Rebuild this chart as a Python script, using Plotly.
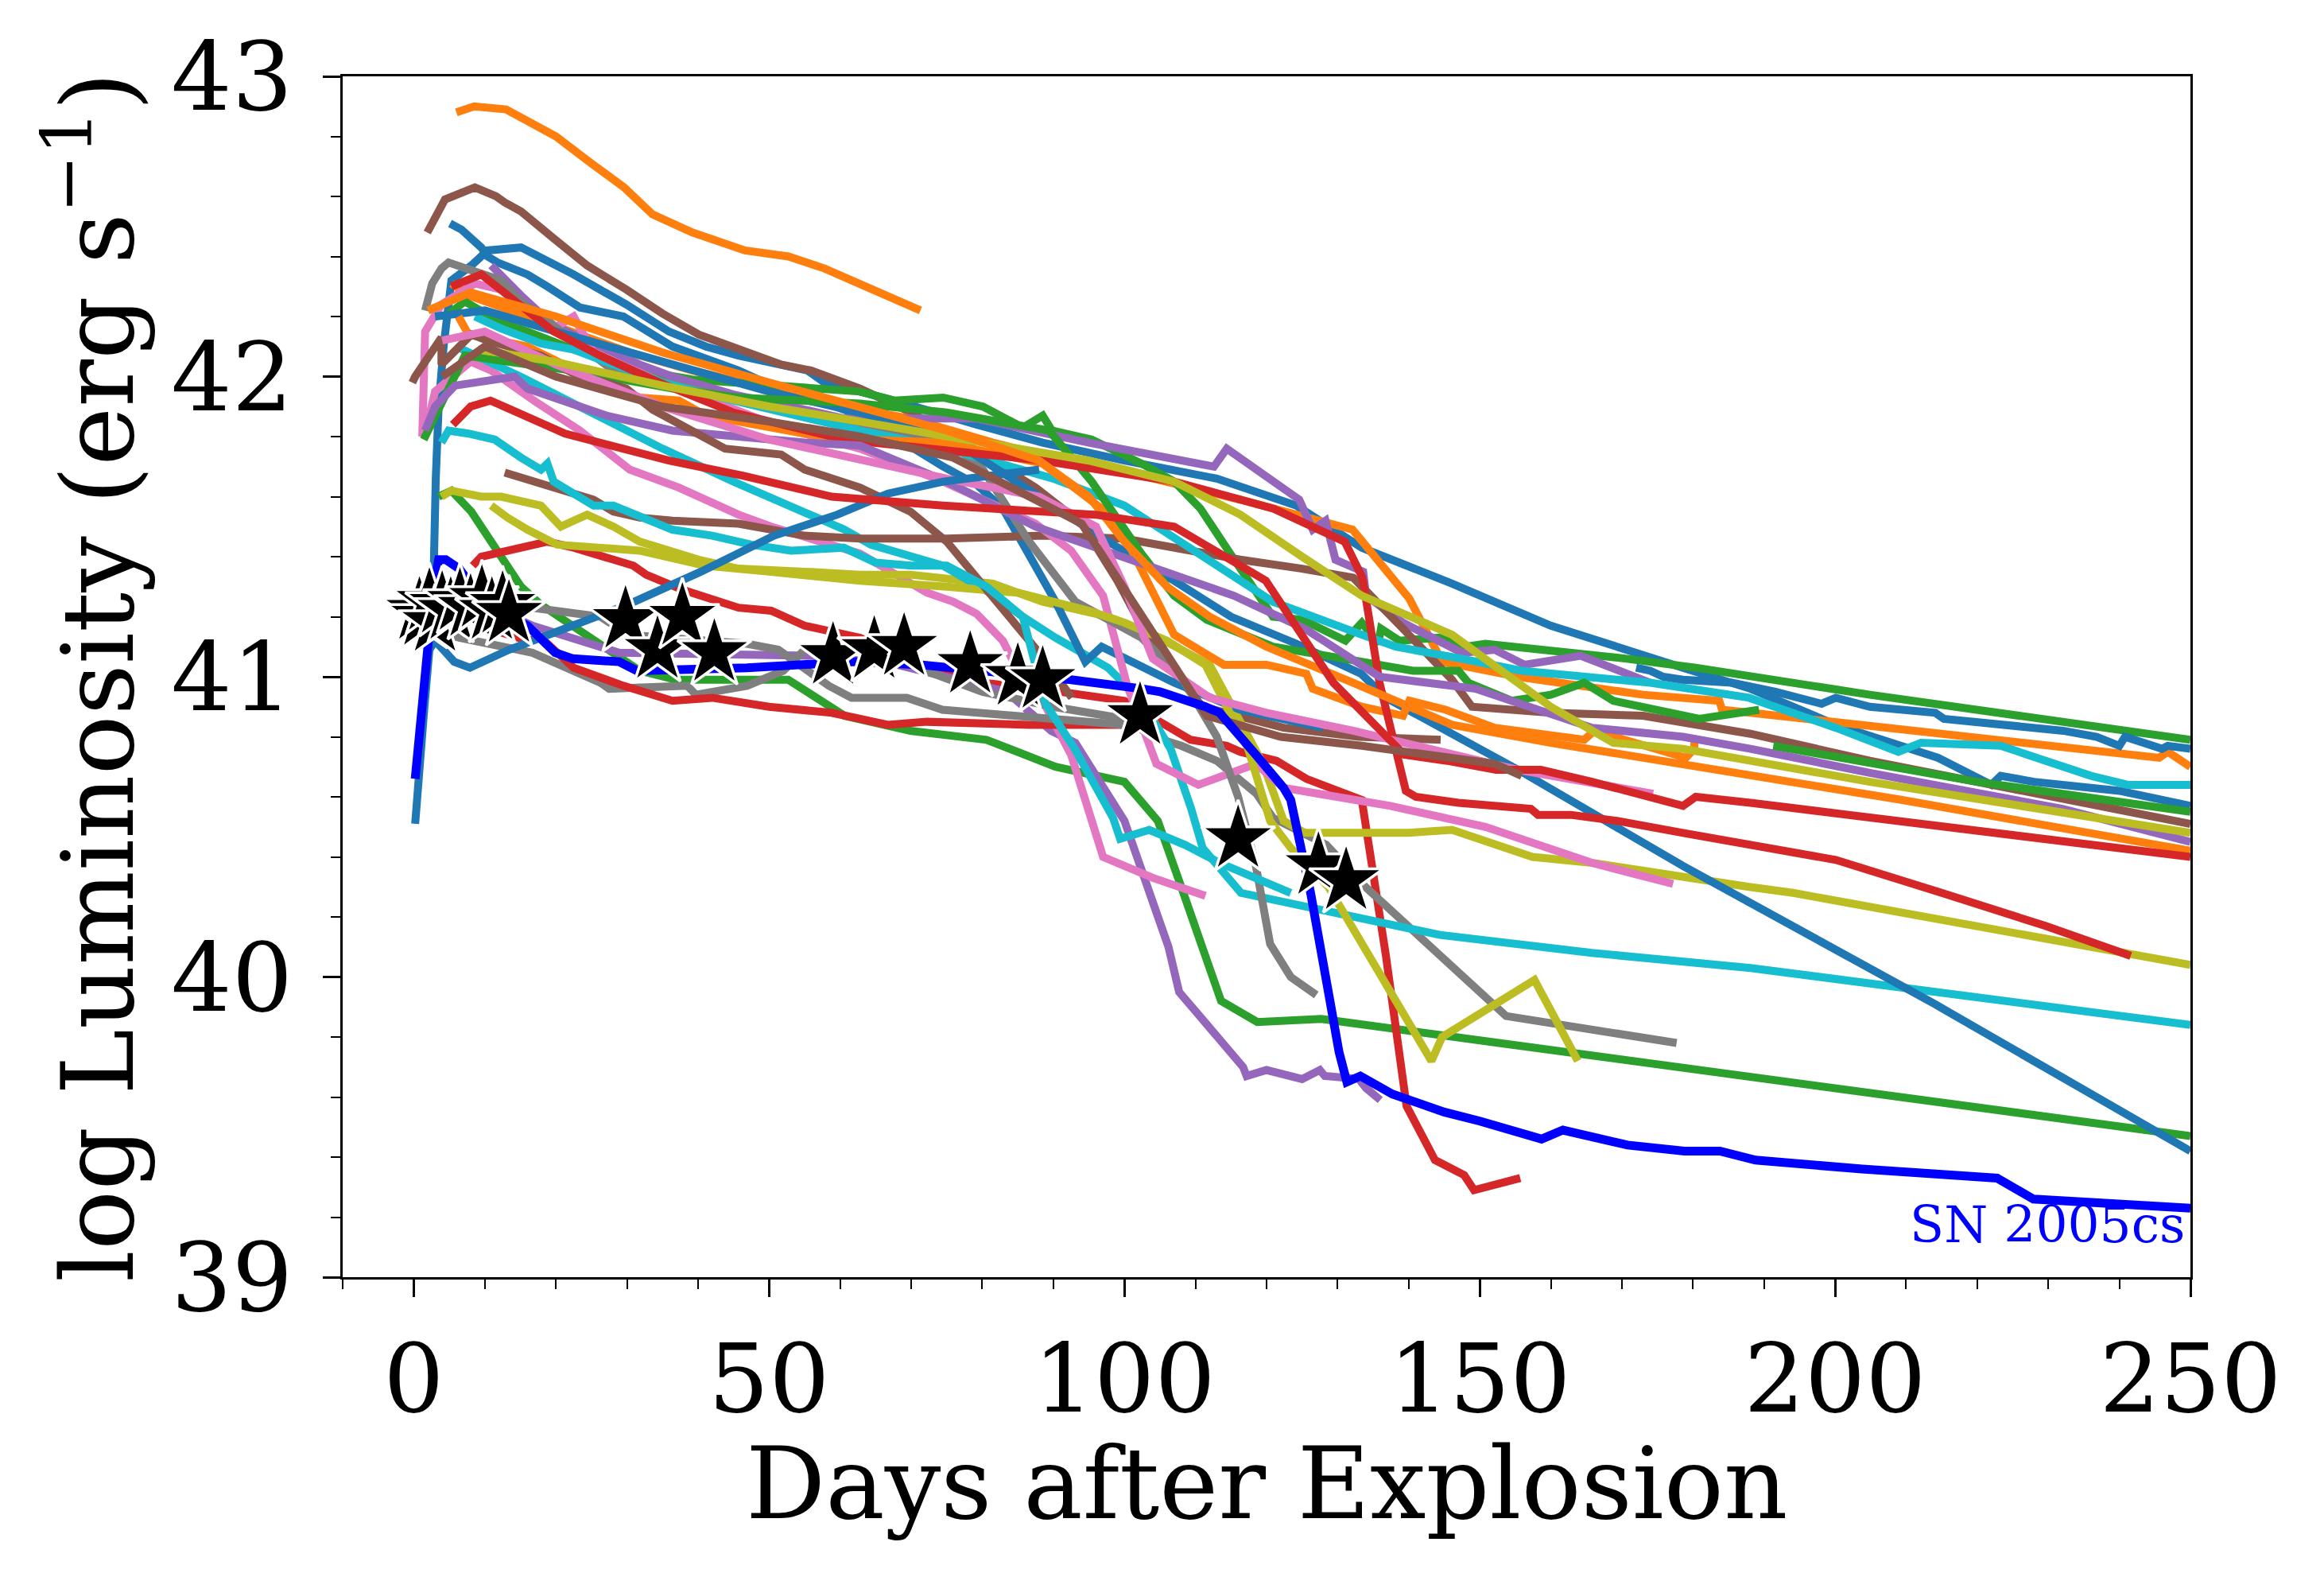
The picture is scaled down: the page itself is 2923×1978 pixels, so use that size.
import plotly.graph_objects as go

# ---------------- data (days after explosion, log L) ----------------
ORANGE_TOP_T = [6, 8.5, 13, 20, 25, 29.6, 33.6, 39.2, 46.6, 52.7, 57.8, 62.8, 67, 71.3]
ORANGE_TOP_L = [42.88, 42.9, 42.89, 42.8, 42.71, 42.63, 42.54, 42.48, 42.42, 42.40, 42.36, 42.31, 42.27, 42.22]

BROWN_TOP_T = [1.9, 4.4, 8.6, 11.6, 12.8, 15.1, 19.7, 24.4, 29.9, 35, 40.1, 43.8, 47.5, 51.7, 55.9, 62.8, 70, 78, 87.5, 94, 99, 104, 111, 122.4, 133, 144.5]
BROWN_TOP_L = [42.48, 42.59, 42.63, 42.60, 42.58, 42.55, 42.46, 42.37, 42.29, 42.21, 42.14, 42.11, 42.08, 42.04, 42.02, 41.96, 41.88, 41.77, 41.63, 41.51, 41.32, 41.1, 40.9, 40.83, 40.80, 40.79]

BLUE_B1_T = [5.1, 6.7, 9.5, 10.4, 11.8, 16, 18.8, 23.4, 29.5, 36.4, 45.7, 48.5, 55.9, 62.8, 74.5, 79.2, 82.9, 86.6, 90.3, 94.5, 96.8, 107, 116.3, 127.9]
BLUE_B1_L = [42.51, 42.49, 42.43, 42.40, 42.38, 42.34, 42.30, 42.23, 42.20, 42.10, 42.02, 41.99, 41.93, 41.87, 41.70, 41.64, 41.56, 41.41, 41.25, 41.05, 41.10, 40.98, 40.89, 40.83]

BLUE_B2_T = [0.2, 0.6, 1.5, 2.2, 2.8, 3.1, 3.5, 4.2, 5.3, 8.1, 10.4, 15.1, 22.5, 29.9, 35.9, 41.1, 45.7, 55.4, 57.8, 62.8, 67.6, 79.2, 88.5, 100, 113, 124.2, 133.4, 146.1, 160, 178.6, 188.1, 200.1, 214.5, 222, 223.3, 228, 240, 250]
BLUE_B2_L = [40.51, 40.65, 40.9, 41.09, 41.34, 41.66, 41.9, 42.1, 42.32, 42.37, 42.42, 42.43, 42.34, 42.24, 42.15, 42.10, 42.07, 42.02, 41.98, 41.95, 41.92, 41.84, 41.78, 41.72, 41.66, 41.57, 41.43, 41.31, 41.17, 41.03, 40.96, 40.84, 40.73, 40.64, 40.67, 40.65, 40.62, 40.57]

BLUE_RISE_T = [2.2, 3, 5.7, 7.9, 13.4, 21.1, 30.1, 40.4, 50.7, 59.6, 66.7, 74.5, 83.8, 88]
BLUE_RISE_L = [41.09, 41.12, 41.05, 41.03, 41.09, 41.16, 41.24, 41.35, 41.47, 41.54, 41.61, 41.65, 41.68, 41.69]

BLUE_STEEP_T = [3, 10, 20, 35, 50, 62.8, 75, 88, 97.7, 107, 115, 124.2, 133.3, 136.8, 155.4, 178.6, 201.8, 214, 250]
BLUE_STEEP_L = [42.2, 42.22, 42.15, 42.05, 41.95, 41.88, 41.8, 41.6, 41.45, 41.32, 41.2, 41.11, 41.01, 40.93, 40.69, 40.37, 40.07, 39.91, 39.42]

BLUE_JIT_T = [172, 174, 175.8, 178.6, 185.5, 191.6, 198.1, 200.1, 204.9, 214.1, 215.3, 224.1, 232.1, 236.8, 240, 240.8, 246, 246.8, 250]
BLUE_JIT_L = [41.03, 41.02, 41.0, 40.99, 40.98, 40.95, 40.91, 40.93, 40.90, 40.88, 40.86, 40.84, 40.82, 40.80, 40.77, 40.80, 40.76, 40.77, 40.76]

GREEN_TOP_T = [4.4, 7.2, 12.3, 16, 22.5, 31.8, 39.2, 51.3, 62.8, 67.6, 74.5, 80.1, 85.7, 88.5, 89.8, 95.4, 102.4, 107, 110.7, 114.9, 120.9, 125.1, 129.7, 131.1, 133, 133.4, 135.7, 136.1, 138.7, 144.3, 148, 150.8, 170.7, 180.4, 204.9, 250]
GREEN_TOP_L = [42.20, 42.25, 42.18, 42.15, 42.09, 42.02, 41.99, 41.97, 41.95, 41.92, 41.93, 41.90, 41.83, 41.87, 41.82, 41.79, 41.71, 41.65, 41.56, 41.41, 41.2, 41.19, 41.14, 41.12, 41.17, 41.18, 41.11, 41.16, 41.12, 41.13, 41.10, 41.11, 41.06, 41.03, 40.94, 40.79]

GREEN_3_T = [1.4, 7.2, 16, 22.5, 36.4, 45.7, 62.8, 75, 89.4, 95.4, 102.4, 107, 111.6, 120.9, 133.4, 136.4, 140.6, 147, 148.4, 154.5, 160, 164.7, 168.8, 180.9, 189.3]
GREEN_3_L = [41.79, 42.07, 42.04, 42.02, 41.96, 41.93, 41.91, 41.88, 41.82, 41.65, 41.41, 41.27, 41.19, 41.10, 41.05, 41.04, 41.02, 41.02, 40.98, 40.92, 40.94, 40.98, 40.92, 40.86, 40.89]

GREEN_2_T = [191.3, 204.9, 220, 250]
GREEN_2_L = [40.77, 40.71, 40.65, 40.55]

GREEN_DROP_T = [3.5, 5.3, 8.1, 15.1, 17.9, 31.8, 36.9, 52.7, 60.6, 69.9, 80.6, 90.3, 100, 104.7, 108, 113.6, 118.7, 127.7, 152.7, 198.8, 250]
GREEN_DROP_L = [41.6, 41.62, 41.55, 41.30, 41.24, 41.02, 40.99, 40.99, 40.87, 40.82, 40.79, 40.70, 40.65, 40.52, 40.3, 39.92, 39.85, 39.86, 39.78, 39.63, 39.47]

GRAY_A_T = [1.6, 2.6, 3.9, 4.9, 12.3, 15.1, 22.5, 28.1, 31.8, 45.7, 60.6, 69.9, 75.5, 80.1, 86.6, 93.1, 102.4, 108, 113, 116, 118.5, 120.5, 123.4, 127]
GRAY_A_L = [42.22, 42.31, 42.36, 42.38, 42.32, 42.25, 42.12, 42.02, 42.0, 41.92, 41.84, 41.80, 41.78, 41.69, 41.45, 41.25, 41.13, 41.0, 40.8, 40.6, 40.37, 40.11, 40.0, 39.94]

GRAY_B_T = [2, 6.4, 16.7, 26.3, 27.5, 38.5, 39.7, 46.9, 52, 55, 60, 66, 72, 80, 90, 100, 104, 108, 113, 118.6, 120.9, 128.4, 133.9, 153.7, 177.7]
GRAY_B_L = [41.16, 41.13, 41.08, 40.98, 40.96, 40.97, 40.94, 40.97, 41.02, 41.09, 41.1, 41.08, 41.02, 40.95, 40.9, 40.86, 40.8, 40.77, 40.72, 40.61, 40.53, 40.44, 40.30, 39.87, 39.78]

GRAY_C_T = [3, 8, 16.7, 26.3, 30.1, 46.9, 51.3, 58.4, 61.6, 69.4, 74.4, 89.7, 100, 104]
GRAY_C_L = [41.25, 41.24, 41.23, 41.2, 41.14, 41.11, 41.09, 40.97, 40.93, 40.93, 40.89, 40.86, 40.84, 40.82]

RED_MID_T = [8.3, 9.5, 18.8, 22.5, 30.9, 32.7, 37.8, 45.7, 50.3, 55, 62.8, 71.8, 80, 88, 100, 105.2, 107, 109.3, 114.4, 116.3, 121.4, 125.6, 133.4, 136.8, 139.7, 143.7, 147.8, 149.2, 155.7]
RED_MID_L = [41.37, 41.40, 41.45, 41.43, 41.37, 41.34, 41.29, 41.23, 41.22, 41.17, 41.13, 41.03, 40.98, 40.96, 40.92, 40.85, 40.82, 40.79, 40.77, 40.75, 40.72, 40.66, 40.59, 40.07, 39.57, 39.39, 39.34, 39.29, 39.33]

RED_LOW_T = [12, 16, 17.9, 22.5, 29.5, 36.4, 42, 50, 58.8, 66.7, 72.2, 86.6, 97.7, 103]
RED_LOW_L = [41.15, 41.12, 41.13, 41.03, 40.97, 40.92, 40.93, 40.9, 40.88, 40.84, 40.85, 40.84, 40.84, 40.84]

RED_STEEP_T = [5.3, 9.5, 19.7, 26.2, 34.6, 45, 60.6, 88.5, 107, 121, 131, 133.5, 135.9, 137.8, 139.6, 141, 147, 157.2, 158.2, 162.8, 169.3, 178.6, 188.1, 200.1, 215, 229.6, 241.6]
RED_STEEP_L = [42.30, 42.34, 42.15, 42.07, 41.98, 41.88, 41.79, 41.72, 41.65, 41.56, 41.45, 41.33, 40.98, 40.78, 40.62, 40.6, 40.58, 40.56, 40.54, 40.54, 40.52, 40.48, 40.44, 40.39, 40.28, 40.17, 40.07]

RED_TAIL_T = [5.5, 8, 10.8, 21.3, 35.9, 46.3, 58.8, 74.5, 88.5, 95.9, 107, 119.9, 129.4, 139.4, 145.4, 152.3, 158.6, 165.8, 178.6, 180.4, 188.1, 204.9, 250]
RED_TAIL_L = [41.84, 41.9, 41.92, 41.81, 41.72, 41.67, 41.6, 41.57, 41.55, 41.54, 41.5, 41.32, 40.98, 40.74, 40.72, 40.69, 40.69, 40.65, 40.57, 40.60, 40.58, 40.53, 40.40]

PURPLE_TOP_T = [10.9, 15.1, 19.7, 31.8, 36.4, 45, 55, 60.6, 79.2, 95, 112.6, 114.4, 124.6, 126.5, 128.3, 129.7, 133.6, 134, 139.2, 147.5, 152.1, 156.3, 164.2, 174]
PURPLE_TOP_L = [42.37, 42.27, 42.17, 42.04, 42.0, 41.94, 41.89, 41.86, 41.86, 41.78, 41.70, 41.76, 41.59, 41.49, 41.52, 41.39, 41.35, 41.27, 41.18, 41.08, 41.09, 41.04, 41.07, 40.98]

PURPLE_2_T = [1.6, 3, 5.8, 14.2, 16, 22.5, 27.1, 36.4, 45.7, 55, 62.8, 75, 87.5, 105, 115.4, 125.4, 135.9, 149.4, 165.8, 178.6, 188.1, 204.9, 232, 250]
PURPLE_2_L = [41.82, 41.9, 41.97, 42.0, 41.96, 41.91, 41.87, 41.82, 41.80, 41.78, 41.77, 41.65, 41.50, 41.36, 41.27, 41.16, 41.0, 40.96, 40.83, 40.80, 40.76, 40.68, 40.56, 40.45]

PURPLE_DROP_T = [14, 16.7, 28.9, 46.9, 56.5, 68, 83.4, 89.7, 93.1, 100, 102.7, 106.2, 107.7, 116.7, 117.2, 120, 125, 127.5, 128.2, 133, 134, 136]
PURPLE_DROP_L = [41.2, 41.17, 41.08, 41.07, 41.07, 41.04, 40.95, 40.82, 40.78, 40.52, 40.33, 40.10, 39.95, 39.70, 39.67, 39.69, 39.66, 39.69, 39.67, 39.66, 39.63, 39.59]

PINK_A_T = [1.5, 3, 8, 10.9, 16.9, 23.4, 30.4, 37.3, 45.7, 50.3, 62.8, 72.2, 75.9, 79.2, 82.9, 84.8, 88.5, 92.5, 97, 104, 111.4]
PINK_A_L = [41.8, 41.95, 42.05, 42.02, 41.92, 41.82, 41.69, 41.63, 41.54, 41.5, 41.41, 41.28, 41.25, 41.21, 41.12, 41.03, 40.92, 40.74, 40.4, 40.33, 40.27]

PINK_B_T = [1.2, 1.6, 3.9, 8.6, 12.3, 16, 19.7, 22.5, 25.3, 35, 45.2, 51.7, 62.8, 74.5, 87.5, 92.5, 97, 100.4, 104.5, 110.4, 118.5, 122.4, 127.4, 137.4, 150.8, 165.8, 177.2]
PINK_B_L = [41.80, 42.15, 42.24, 42.31, 42.29, 42.22, 42.16, 42.2, 42.08, 41.98, 41.89, 41.83, 41.76, 41.65, 41.51, 41.42, 41.27, 40.97, 40.71, 40.64, 40.71, 40.63, 40.61, 40.57, 40.5, 40.38, 40.31]

PINK_C_T = [4, 10, 20, 35, 50, 62.8, 75, 88, 96, 100, 104, 112, 120, 132.2, 155.4, 174.4]
PINK_C_L = [42.12, 42.15, 42.04, 41.9, 41.79, 41.72, 41.66, 41.6, 41.5, 41.3, 41.06, 40.93, 40.88, 40.82, 40.69, 40.61]

OLIVE_A_T = [3.9, 5.3, 9.5, 12.3, 17.9, 20.7, 22.5, 24.4, 28.1, 31.8, 40.1, 45.7, 55, 62.8, 69.9, 81.5, 88.5, 97.7, 104, 112, 115.4, 119.5, 122.4, 125.4, 139.9, 146.1, 157.4, 165.8, 187.9, 194.1, 250]
OLIVE_A_L = [41.60, 41.62, 41.60, 41.6, 41.57, 41.50, 41.52, 41.54, 41.5, 41.45, 41.39, 41.36, 41.35, 41.34, 41.34, 41.31, 41.25, 41.2, 41.14, 41.04, 40.89, 40.71, 40.52, 40.48, 40.48, 40.49, 40.40, 40.38, 40.3, 40.28, 40.04]

OLIVE_B_T = [10.9, 13.2, 16, 20.2, 31.8, 41, 50, 62.8, 75, 85, 95, 100, 106, 111.4, 114.4, 117.4, 120.5, 123.4, 128.7, 137.7, 143.2, 144.7, 157.7, 163.8]
OLIVE_B_L = [41.57, 41.53, 41.49, 41.44, 41.42, 41.37, 41.35, 41.32, 41.3, 41.28, 41.22, 41.18, 41.12, 41.04, 40.9, 40.76, 40.52, 40.43, 40.30, 39.94, 39.72, 39.80, 39.99, 39.72]

OLIVE_C_T = [9, 19.7, 35, 50, 62.8, 80, 95, 107, 116.3, 125, 133.4, 146.1, 160, 168.8, 178.6, 204.9, 250]
OLIVE_C_L = [42.09, 42.05, 41.97, 41.9, 41.85, 41.78, 41.72, 41.65, 41.54, 41.4, 41.27, 41.14, 40.9, 40.78, 40.76, 40.65, 40.48]

CYAN_A_T = [8.6, 12.3, 17.9, 22.5, 28.1, 35, 45, 55, 62.8, 75, 90, 100, 111.6, 114, 120.9, 133.4, 138.2, 147.5, 155.9, 174, 187.9, 200.1, 208.9, 212.1, 223.3, 236, 241.2, 250]
CYAN_A_L = [42.20, 42.16, 42.11, 42.09, 42.04, 41.98, 41.92, 41.86, 41.82, 41.76, 41.66, 41.57, 41.39, 41.36, 41.25, 41.14, 41.1, 41.06, 41.02, 40.98, 40.93, 40.83, 40.75, 40.78, 40.77, 40.67, 40.64, 40.64]

CYAN_B_T = [3.9, 4.9, 7.7, 11.4, 15.1, 17.9, 18.8, 19.7, 25.3, 28.1, 36.4, 42, 47.5, 53.1, 60.5, 65, 70, 75, 80.6, 85.7, 88.9, 93, 98.4, 99.4, 103.5, 108.5, 113.4, 123.4]
CYAN_B_L = [41.78, 41.82, 41.81, 41.79, 41.73, 41.69, 41.71, 41.65, 41.57, 41.57, 41.49, 41.47, 41.44, 41.42, 41.43, 41.38, 41.37, 41.37, 41.3, 41.2, 40.91, 40.76, 40.53, 40.46, 40.49, 40.44, 40.38, 40.28]

CYAN_LOW_T = [6, 15, 25, 35, 45, 55, 60.6, 64.3, 69, 74.5, 81, 85.7, 90.3, 97.7, 102.4, 106.5, 109.4, 111, 116.4, 144.4, 165.8, 188.1, 250]
CYAN_LOW_L = [42.1, 42.0, 41.88, 41.76, 41.65, 41.55, 41.49, 41.44, 41.41, 41.37, 41.28, 41.2, 41.13, 41.03, 40.92, 40.76, 40.56, 40.43, 40.28, 40.14, 40.08, 40.03, 39.84]

ORANGE_B_T = [5.3, 7.7, 19.7, 30.4, 39.2, 48.5, 62.8, 69.9, 81.5, 93.1, 102.4, 116.3, 132.1, 140.1, 144.7, 155.4, 173, 183.7, 184.1, 188.1, 218, 230.9, 245.6, 246.8, 250]
ORANGE_B_L = [42.31, 42.27, 42.17, 42.08, 42.02, 41.97, 41.89, 41.86, 41.78, 41.71, 41.67, 41.59, 41.49, 41.26, 41.05, 41.0, 40.94, 40.92, 40.89, 40.88, 40.80, 40.77, 40.73, 40.75, 40.70]

ORANGE_C_T = [6.3, 7.7, 16, 22.5, 26.2, 31.8, 37.3, 41.1, 45.7, 55, 62.8, 74.5, 88.5, 96.8, 100, 107, 114, 120, 125.6, 126.5, 133.4, 139.2, 140.1, 145.2, 152.1, 164.7, 166.1, 179, 180.2, 180.2]
ORANGE_C_L = [42.2, 42.14, 42.10, 42.02, 41.98, 41.93, 41.92, 41.87, 41.85, 41.81, 41.79, 41.78, 41.71, 41.56, 41.47, 41.14, 41.04, 41.04, 41.01, 40.96, 40.9, 40.87, 40.92, 40.89, 40.83, 40.79, 40.82, 40.73, 40.76, 40.79]

ORANGE_D_T = [2, 8, 20, 35, 50, 62.8, 75, 88, 95, 100, 106, 112, 120, 132.2, 146.1, 160, 187.9, 203.3, 209.3, 250]
ORANGE_D_L = [42.22, 42.28, 42.2, 42.08, 41.98, 41.9, 41.82, 41.72, 41.6, 41.45, 41.3, 41.2, 41.1, 40.98, 40.84, 40.78, 40.67, 40.61, 40.59, 40.42]

BROWN_LATE_T = [12.8, 16.9, 25.3, 28.1, 31.8, 36.4, 45.7, 55, 62.8, 75, 88.5, 100, 107, 116.3, 125, 132.2, 139.2, 146.1, 148.9, 160, 173, 188.1, 204.9, 250]
BROWN_LATE_L = [41.68, 41.65, 41.59, 41.55, 41.53, 41.52, 41.51, 41.47, 41.46, 41.46, 41.47, 41.46, 41.43, 41.39, 41.36, 41.33, 41.16, 40.99, 40.90, 40.88, 40.87, 40.81, 40.72, 40.51]

BROWN_2_T = [-0.2, 0.2, 3.9, 3.9, 8.1, 10.4, 17.9, 22.5, 29.9, 33.6, 43.8, 51.7, 55, 62.8, 69.9, 75, 88, 92.6]
BROWN_2_L = [41.98, 42.0, 42.13, 42.04, 42.14, 42.12, 42.07, 42.01, 41.96, 41.89, 41.76, 41.74, 41.69, 41.63, 41.55, 41.45, 41.08, 40.93]

BROWN_3_T = [4, 10, 20, 35, 50, 62.8, 75.9, 94, 104.2, 111.6, 122, 133.4, 152.1, 155.9]
BROWN_3_L = [42.0, 42.1, 42.0, 41.9, 41.85, 41.8, 41.73, 41.51, 41.14, 40.87, 40.8, 40.77, 40.71, 40.67]

SN05CS_T = [0.2, 1.0, 1.9, 2.8, 3.5, 4.5, 6.4, 8.3, 12, 16, 19.9, 22.4, 28.9, 31.4, 46.9, 56.5, 62.2, 71.3, 80, 92.5, 102.5, 105, 111.4, 113.4, 118.5, 122.4, 123.4, 125.4, 126.2, 128.7, 130.2, 131.3, 133.2, 137.7, 145, 150, 158.7, 161.7, 170.8, 178.8, 183.8, 188.8, 203.8, 222.8, 227.9, 250]
SN05CS_L = [40.66, 40.85, 41.04, 41.3, 41.39, 41.39, 41.36, 41.3, 41.22, 41.17, 41.08, 41.06, 41.05, 41.02, 41.03, 41.04, 41.05, 41.04, 41.02, 40.99, 40.96, 40.95, 40.9, 40.88, 40.74, 40.63, 40.59, 40.38, 40.28, 39.95, 39.75, 39.65, 39.67, 39.61, 39.55, 39.52, 39.46, 39.49, 39.44, 39.42, 39.42, 39.39, 39.36, 39.33, 39.26, 39.23]

STAR_T = [0.8, 1.5, 2.2, 3.0, 4.0, 5.2, 6.5, 8.0, 9.6, 11.0, 12.5, 13.4, 29.8, 34.3, 37.8, 42.3, 59, 64.8, 69, 78.3, 85, 88.5, 102.2, 116, 127.3, 131.2]
STAR_L = [41.22, 41.2, 41.25, 41.18, 41.24, 41.22, 41.25, 41.23, 41.26, 41.22, 41.24, 41.21, 41.19, 41.09, 41.2, 41.08, 41.07, 41.09, 41.1, 41.04, 41.0, 40.99, 40.87, 40.46, 40.37, 40.32]

X_TICKS = [0, 50, 100, 150, 200, 250]
Y_TICKS = [39, 40, 41, 42, 43]
LABEL_SN = "SN 2005cs"

# ---------------- styling ----------------
C = {'blue': '#1f77b4', 'orange': '#ff7f0e', 'green': '#2ca02c', 'red': '#d62728',
     'purple': '#9467bd', 'brown': '#8c564b', 'pink': '#e377c2', 'gray': '#7f7f7f',
     'olive': '#bcbd22', 'cyan': '#17becf'}

SERIES = [
    ('blue', BLUE_B2_T, BLUE_B2_L),
    ('orange', ORANGE_TOP_T, ORANGE_TOP_L),
    ('green', GREEN_DROP_T, GREEN_DROP_L),
    ('red', RED_MID_T, RED_MID_L),
    ('purple', PURPLE_DROP_T, PURPLE_DROP_L),
    ('brown', BROWN_TOP_T, BROWN_TOP_L),
    ('pink', PINK_A_T, PINK_A_L),
    ('gray', GRAY_B_T, GRAY_B_L),
    ('olive', OLIVE_A_T, OLIVE_A_L),
    ('cyan', CYAN_LOW_T, CYAN_LOW_L),
    ('blue', BLUE_B1_T, BLUE_B1_L),
    ('orange', ORANGE_B_T, ORANGE_B_L),
    ('green', GREEN_TOP_T, GREEN_TOP_L),
    ('red', RED_LOW_T, RED_LOW_L),
    ('purple', PURPLE_TOP_T, PURPLE_TOP_L),
    ('brown', BROWN_LATE_T, BROWN_LATE_L),
    ('pink', PINK_B_T, PINK_B_L),
    ('gray', GRAY_A_T, GRAY_A_L),
    ('olive', OLIVE_B_T, OLIVE_B_L),
    ('cyan', CYAN_A_T, CYAN_A_L),
    ('blue', BLUE_STEEP_T, BLUE_STEEP_L),
    ('orange', ORANGE_C_T, ORANGE_C_L),
    ('green', GREEN_3_T, GREEN_3_L),
    ('red', RED_STEEP_T, RED_STEEP_L),
    ('purple', PURPLE_2_T, PURPLE_2_L),
    ('brown', BROWN_2_T, BROWN_2_L),
    ('pink', PINK_C_T, PINK_C_L),
    ('gray', GRAY_C_T, GRAY_C_L),
    ('olive', OLIVE_C_T, OLIVE_C_L),
    ('cyan', CYAN_B_T, CYAN_B_L),
    ('blue', BLUE_RISE_T, BLUE_RISE_L),
    ('orange', ORANGE_D_T, ORANGE_D_L),
    ('green', GREEN_2_T, GREEN_2_L),
    ('red', RED_TAIL_T, RED_TAIL_L),
    ('brown', BROWN_3_T, BROWN_3_L),
    ('blue', BLUE_JIT_T, BLUE_JIT_L),
]

FONT = "DejaVu Serif"
fig = go.Figure()
for col, t, l in SERIES:
    fig.add_trace(go.Scatter(x=t, y=l, mode='lines',
                             line=dict(color=C[col], width=10), showlegend=False,
                             hoverinfo='skip'))

fig.add_trace(go.Scatter(x=SN05CS_T, y=SN05CS_L, mode='lines',
                         line=dict(color='#0000ff', width=11), showlegend=False))
fig.add_trace(go.Scatter(x=STAR_T, y=STAR_L, mode='markers',
                         marker=dict(symbol='star', size=70, color='black',
                                     line=dict(color='white', width=3.5)),
                         showlegend=False))

fig.add_annotation(x=0.998, y=0.018, xref='paper', yref='paper', text=LABEL_SN,
                   showarrow=False, xanchor='right', yanchor='bottom',
                   font=dict(family=FONT, size=63, color='#0000ff'))
fig.add_annotation(x=0.5, y=-0.172, xref='paper', yref='paper',
                   text="Days after Explosion", showarrow=False,
                   xanchor='center', yanchor='middle',
                   font=dict(family=FONT, size=125, color='black'))
fig.add_annotation(x=-0.136, y=0.5, xref='paper', yref='paper',
                   text="log Luminosity (erg s<sup>\u22121</sup>)", showarrow=False,
                   xanchor='center', yanchor='middle', textangle=-90,
                   font=dict(family=FONT, size=125, color='black'))

axis_common = dict(showgrid=False, zeroline=False, showline=True, linecolor='black',
                   linewidth=3, mirror=True, ticks='outside', ticklen=22, tickwidth=3,
                   tickcolor='black',
                   tickfont=dict(family=FONT, size=120, color='black'))
fig.update_xaxes(range=[-10, 250], tickvals=X_TICKS, ticktext=[str(v) for v in X_TICKS],
                 minor=dict(dtick=10, tick0=0, ticks='outside', ticklen=12, tickwidth=2,
                            tickcolor='black'),
                 **axis_common)
fig.update_yaxes(range=[39, 43], tickvals=Y_TICKS, ticktext=[str(v) for v in Y_TICKS],
                 minor=dict(dtick=0.2, tick0=39, ticks='outside', ticklen=12, tickwidth=2,
                            tickcolor='black'),
                 ticklabelstandoff=14,
                 **axis_common)
fig.update_layout(width=2923, height=1978,
                  margin=dict(l=423, r=176, t=88, b=380, autoexpand=False),
                  paper_bgcolor='white', plot_bgcolor='white',
                  font=dict(family=FONT))
fig.write_html("out.html", config={'displayModeBar': False})
